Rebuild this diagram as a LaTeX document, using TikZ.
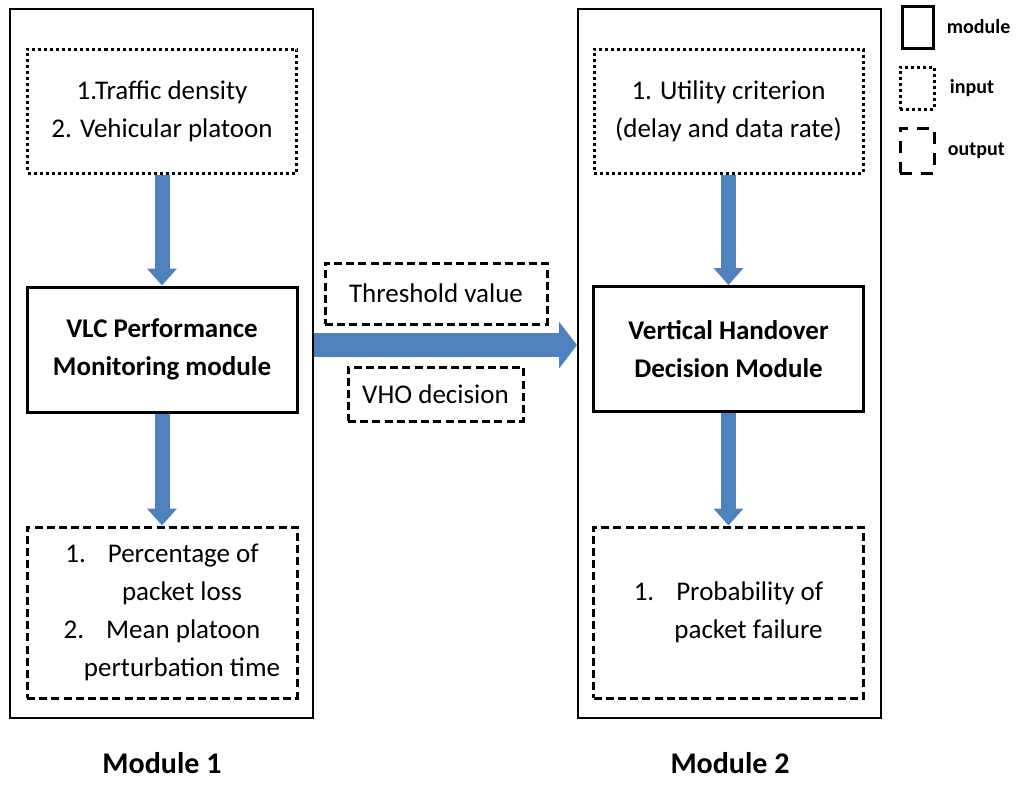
\documentclass[tikz,border=0pt]{standalone}
\usepackage{fontspec}
\setmainfont{Carlito}
\usepackage{xcolor}
\usetikzlibrary{arrows.meta, positioning}

\definecolor{flowblue}{HTML}{4F81BD}

\begin{document}
\begin{tikzpicture}[
    x=0.5pt, y=-0.5pt,
    % Outer module frames
    frame/.style={
        rectangle, draw=black, line width=1pt, inner sep=0pt,
        minimum width=151.5pt, minimum height=354.5pt
    },
    % Module boxes
    modbox/.style={
        rectangle, draw=black, line width=1.5pt, inner sep=0pt,
        minimum width=135pt, minimum height=62.5pt, align=center,
        font=\fontsize{13.5}{19}\selectfont\bfseries
    },
    % Input boxes
    inbox/.style={
        rectangle, draw=black, line width=1.5pt, dash pattern=on 1.5pt off 1.5pt,
        inner sep=0pt, minimum width=134.5pt, minimum height=62pt, align=center,
        font=\fontsize{13.5}{19}\selectfont
    },
    % Output boxes
    outbox/.style={
        rectangle, draw=black, line width=1.5pt, dash pattern=on 4pt off 2.1pt,
        inner sep=0pt, minimum width=135pt, minimum height=85.5pt, align=center,
        font=\fontsize{13.5}{19}\selectfont
    },
    % Module title
    title/.style={
        font=\fontsize{15}{18}\selectfont\bfseries
    },
    % Legend label
    keytext/.style={
        font=\fontsize{10}{12}\selectfont\bfseries, inner sep=0pt
    },
    % Arrows
    varr/.style={draw=flowblue, line width=7.5pt, -{Triangle[width=14.5pt, length=8.5pt]}},
    harr/.style={draw=flowblue, line width=12pt, -{Triangle[width=23pt, length=9pt]}},
]

\useasboundingbox (0,0) rectangle (1016,787);

% ===== MODULE FRAMES =====
\node[frame] (frame1) at (161.5, 363.5) {};
\node[frame] (frame2) at (729.5, 363.5) {};

\node[title] (name1) at (162, 763) {Module 1};
\node[title] (name2) at (730, 763) {Module 2};

% ===== MODULE 1 =====
\node[inbox] (in1) at (162, 111)
    {1.Traffic density\\2. Vehicular platoon};

\node[modbox] (vlc) at (162, 349.5)
    {VLC Performance\\Monitoring module};

\node[outbox] (out1) at (162, 612.5)
    {1.\hspace{11pt}Percentage of\\\hspace*{20pt}packet loss\\
     2.\hspace{11pt}Mean platoon\\\hspace*{20pt}perturbation time};

\draw[varr] (in1) -- (vlc);
\draw[varr] (vlc) -- (out1);

% ===== MODULE 2 =====
\node[inbox] (in2) at (728.5, 111)
    {1. Utility criterion\\(delay and data rate)};

\node[modbox] (vhd) at (728.5, 349)
    {Vertical Handover\\Decision Module};

\node[outbox] (out2) at (728.5, 612.5)
    {1.\hspace{11pt}Probability of\\\hspace*{20pt}packet failure};

\draw[varr] (in2) -- (vhd);
\draw[varr] (vhd) -- (out2);

% ===== EXCHANGE =====
\node[outbox, minimum width=111pt, minimum height=30.5pt] (thresh) at (436, 293.5)
    {Threshold value};
\node[outbox, minimum width=87.5pt, minimum height=27pt] (vho) at (435.5, 394)
    {VHO decision};

\draw[harr] ([yshift=2.2pt]frame1.east |- vlc.east) -- ([yshift=2.2pt]frame2.west |- vlc.east);

% ===== LEGEND =====
\node[modbox, minimum width=15.5pt, minimum height=21pt] (key_mod) at (917.5, 27) {};
\node[keytext, right=6pt of key_mod] {module};

\node[inbox, minimum width=17pt, minimum height=21pt] (key_in) at (917, 88) {};
\node[keytext, right=7pt of key_in] {input};

\node[outbox, minimum width=17pt, minimum height=22.5pt, dash pattern=on 6pt off 4.5pt] (key_out) at (917, 150.5) {};
\node[keytext, right=6pt of key_out] {output};

\end{tikzpicture}
\end{document}
